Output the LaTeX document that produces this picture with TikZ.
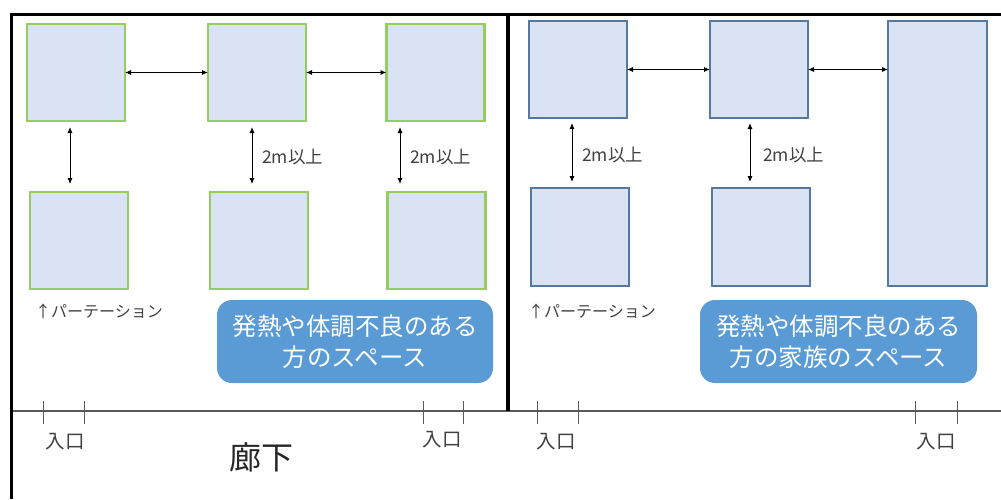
\documentclass[tikz,border=0pt]{standalone}
\usepackage{fontspec}
\setmainfont{Noto Sans CJK JP}
\usetikzlibrary{arrows.meta}
\definecolor{boxfill}{HTML}{DAE3F3}
\definecolor{greenline}{HTML}{96CD60}
\definecolor{blueline}{HTML}{56789E}
\definecolor{callout}{HTML}{5B9BD5}
\definecolor{txtgray}{HTML}{404040}
\definecolor{corr}{HTML}{595959}
\tikzset{
  gbox/.style={draw=greenline, line width=2.8pt, fill=boxfill, inner sep=0pt, outer sep=0pt},
  bbox/.style={draw=blueline, line width=1.6pt, fill=boxfill, inner sep=0pt, outer sep=0pt},
  arr/.style={{Latex[length=6pt,width=5pt]}-{Latex[length=6pt,width=5pt]}, line width=0.9pt, black},
  dist/.style={font=\fontsize{17.5}{19}\selectfont, text=txtgray, anchor=west, inner sep=0pt},
  callbox/.style={fill=callout, rounded corners=15pt, inner sep=0pt, outer sep=0pt},
  calltext/.style={font=\fontsize{24.5}{31}\selectfont, text=white, align=center, inner sep=0pt},
  part/.style={font=\fontsize{16}{18}\selectfont, text=txtgray, anchor=west, inner sep=0pt},
  entr/.style={font=\fontsize{19.5}{20}\selectfont, text=txtgray, inner sep=0pt},
  tick/.style={draw=corr, line width=1pt},
  frame/.style={line width=3pt, black},
}
\begin{document}
\begin{tikzpicture}[x=1pt,y=-1pt]
\useasboundingbox (0,0) rectangle (1001,499);
% frame
\coordinate (tl) at (11,14);
\coordinate (tr) at (1001,14);
\coordinate (bl) at (11,499);
\coordinate (dtop) at (508,14);
\coordinate (dbot) at (508,411);
\coordinate (cl) at (11,411);
\coordinate (cr) at (1001,411);
\draw[corr, line width=1.2pt] (cl) -- (cr);
\draw[frame] (bl) -- (tl) -- (tr);
\draw[line width=3.5pt] (dtop) -- (dbot);
% left section boxes
\node[gbox, minimum width=98pt, minimum height=97pt] (b1) at (76,72.5) {};
\node[gbox, minimum width=98pt, minimum height=97pt] (b2) at (257,72.5) {};
\node[gbox, minimum width=98pt, minimum height=97pt] (b3) at (435.5,72.5) {};
\node[gbox, minimum width=98pt, minimum height=97pt] (b4) at (79,240.5) {};
\node[gbox, minimum width=98pt, minimum height=97pt] (b5) at (259,240.5) {};
\node[gbox, minimum width=98pt, minimum height=97pt] (b6) at (436.5,240.5) {};
% right section boxes
\node[bbox, minimum width=98pt, minimum height=97pt] (b7) at (578,69.5) {};
\node[bbox, minimum width=98pt, minimum height=97pt] (b8) at (759,69.5) {};
\node[bbox, minimum width=99pt, minimum height=265pt] (b9) at (937.5,153.5) {};
\node[bbox, minimum width=98pt, minimum height=98pt] (b10) at (580,237) {};
\node[bbox, minimum width=98pt, minimum height=98pt] (b11) at (761,237) {};
% horizontal arrows
\draw[arr] (b1.east) -- (b2.west);
\draw[arr] (b2.east) -- (b3.west);
\draw[arr] (b7.east) -- (b8.west);
\draw[arr] (b8.east) -- (b8.east -| b9.west);
% vertical arrows
\draw[arr] ([xshift=-6pt,yshift=-6pt]b1.south) -- ([xshift=-9pt,yshift=8pt]b4.north);
\draw[arr] ([xshift=-5pt,yshift=-6pt]b2.south) -- ([xshift=-7pt,yshift=8pt]b5.north);
\draw[arr] ([xshift=-35.5pt,yshift=-6pt]b3.south) -- ([xshift=-36.5pt,yshift=8pt]b6.north);
\draw[arr] ([xshift=-6pt,yshift=-5pt]b7.south) -- ([xshift=-8pt,yshift=6pt]b10.north);
\draw[arr] ([xshift=-9pt,yshift=-5pt]b8.south) -- ([xshift=-11pt,yshift=6pt]b11.north);
% distance labels
\node[dist] (d1) at (262,157) {2m以上};
\node[dist] (d2) at (410,157) {2m以上};
\node[dist] (d3) at (582,155) {2m以上};
\node[dist] (d4) at (763,155) {2m以上};
% partition labels
\node[part] (p1) at (35,311) {↑パーテーション};
\node[part] (p2) at (528,311) {↑パーテーション};
% callouts
\node[callbox, minimum width=276pt, minimum height=83pt] (c1) at (355,341.5) {};
\node[calltext] (t1) at (c1.center) {発熱や体調不良のある\\方のスペース};
\node[callbox, minimum width=277pt, minimum height=83pt] (c2) at (838.5,341.5) {};
\node[calltext] (t2) at (c2.center) {発熱や体調不良のある\\方の家族のスペース};
% entrance ticks
\foreach \x [count=\i] in {43,84,423,463,537,578,915,957} {
  \coordinate (ta\i) at (\x,401);
  \coordinate (tb\i) at (\x,424);
  \draw[tick] (ta\i) -- (tb\i);
}
\node[entr] (e1) at (65,442) {入口};
\node[entr] (e2) at (442,440) {入口};
\node[entr] (e3) at (556,442) {入口};
\node[entr] (e4) at (936,442) {入口};
\node[font=\fontsize{32}{33}\selectfont, text=black!85, inner sep=0pt] (hall) at (261,457) {廊下};
\end{tikzpicture}
\end{document}
